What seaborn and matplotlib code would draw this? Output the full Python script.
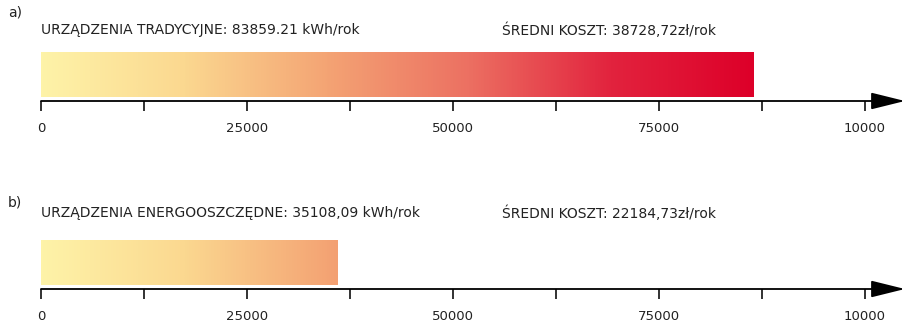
import matplotlib
matplotlib.use('Agg')
import matplotlib.pyplot as plt
import seaborn as sns
import numpy as np
import pandas as pd
from matplotlib.colors import LinearSegmentedColormap

sns.set_style("white")
plt.rcParams['font.family'] = ['DejaVu Sans']

# dane
panel_tags = ["a)", "b)"]
energy_labels = ["URZĄDZENIA TRADYCYJNE: 83859.21 kWh/rok",
                 "URZĄDZENIA ENERGOOSZCZĘDNE: 35108,09 kWh/rok"]
cost_labels = ["ŚREDNI KOSZT: 38728,72zł/rok",
               "ŚREDNI KOSZT: 22184,73zł/rok"]
bar_values = [86500, 36000]
major_ticks = [0, 25000, 50000, 75000, 100000]
major_labels = ["0", "25000", "50000", "75000", "10000"]
minor_ticks = [12500, 37500, 62500, 87500]

W, H = 907, 325
px = 0.00824          # piksele na jednostkę
x0 = 41               # piksel zera osi
xmax = (W - x0) / px
cmap = LinearSegmentedColormap.from_list(
    "ciepla", ["#fef3a8", "#fbd890", "#f4a474", "#ec7062", "#e2233e", "#dd0029"])
vmax = bar_values[0]

fig = plt.figure(figsize=(W / 100, H / 100), dpi=100)

# pozycje paneli w pikselach: (góra osi, linia osi)
panels = [(40, 101), (228, 289)]

for i, (top, base) in enumerate(panels):
    ax = fig.add_axes([x0 / W, 1 - base / H, 1 - x0 / W, (base - top) / H])
    df = pd.DataFrame({"kat": [energy_labels[i]], "wartosc": [bar_values[i]]})
    sns.barplot(data=df, x="wartosc", y="kat", orient="h", width=0.8, ax=ax,
                color="white", edgecolor="none")
    patch = ax.patches[0]
    grad = np.linspace(0, vmax, 512).reshape(1, -1)
    im = ax.imshow(grad, extent=[0, vmax, 0.4, -0.4], aspect="auto",
                   cmap=cmap, vmin=0, vmax=vmax, zorder=2)
    im.set_clip_path(patch)
    ax.set_xlim(0, xmax)
    ax.set_ylim(0.471, -0.613)
    for s in ax.spines.values():
        s.set_visible(False)
    ax.set_yticks([])
    ax.set_ylabel("")
    ax.set_xlabel("")
    ax.set_xticks(major_ticks)
    ax.set_xticklabels(major_labels)
    ax.set_xticks(minor_ticks, minor=True)
    ax.tick_params(axis="x", which="both", direction="out", length=7.5,
                   width=1.3, color="#222222", bottom=True, pad=7.5,
                   labelsize=9.5, labelcolor="#222222")
    ax.annotate("", xy=(xmax - 250, 0), xycoords=("data", "axes fraction"),
                xytext=(0, 0), textcoords=("data", "axes fraction"),
                arrowprops=dict(arrowstyle="-|>,head_length=1.05,head_width=0.26",
                                color="black", lw=1.3, shrinkA=0, shrinkB=0,
                                mutation_scale=20),
                annotation_clip=False)

    label_y = [30, 213][i]
    tag_y = [12, 203][i]
    fig.text(8 / W, 1 - tag_y / H, panel_tags[i], fontsize=10, va="center",
             ha="left", color="#222222")
    fig.text(x0 / W, 1 - label_y / H, energy_labels[i], fontsize=10,
             va="center", ha="left", color="#222222")
    fig.text(502 / W, 1 - label_y / H, cost_labels[i], fontsize=10,
             va="center", ha="left", color="#222222")

fig.savefig("out.png", dpi=100)
